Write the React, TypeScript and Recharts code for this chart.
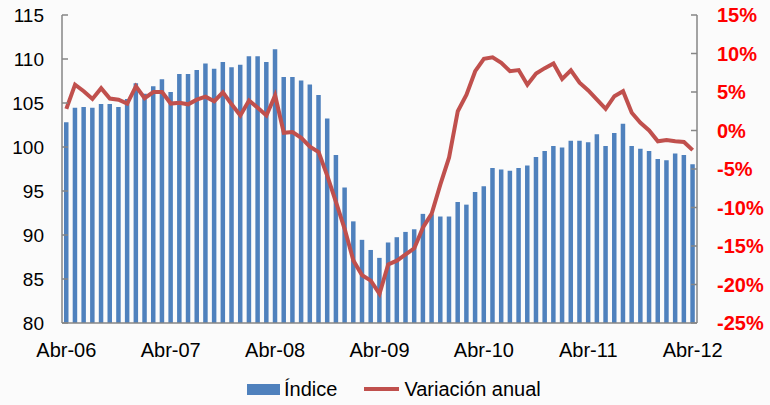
import React from 'react';
import { ComposedChart, Bar, Line, XAxis, YAxis, Legend } from 'recharts';

const MONTHS = ['Abr', 'May', 'Jun', 'Jul', 'Ago', 'Sep', 'Oct', 'Nov', 'Dic', 'Ene', 'Feb', 'Mar'];

// índice (eje izquierdo), abr-06 .. abr-12
const indice = [
  102.8, 104.45, 104.55, 104.45, 104.9, 104.9, 104.55, 105.45, 107.25, 106.05, 106.9, 107.7,
  106.25, 108.3, 108.3, 108.75, 109.5, 108.9, 109.65, 109.05, 109.35, 110.3, 110.3, 109.65,
  111.1, 107.95, 107.95, 107.55, 107.1, 105.9, 103.25, 99.1, 95.4, 91.55, 89.45, 88.3,
  87.4, 89.15, 89.75, 90.35, 90.65, 92.4, 92.35, 92.1, 92.1, 93.75, 93.45, 94.9,
  95.55, 97.6, 97.45, 97.3, 97.6, 97.9, 98.85, 99.55, 100.1, 99.95, 100.7, 100.7,
  100.55, 101.45, 100.1, 101.6, 102.65, 100.1, 99.8, 99.55, 98.65, 98.5, 99.25, 99.1,
  98.05,
];

// variación anual en % (eje derecho)
const variacion = [
  2.8, 5.95, 5.1, 4.1, 5.5, 4.15, 4.0, 3.5, 5.75, 4.2, 5.0, 5.0,
  3.5, 3.6, 3.4, 4.0, 4.4, 3.8, 4.95, 3.4, 1.95, 3.9, 2.95, 1.95,
  4.55, -0.3, -0.2, -0.95, -2.1, -2.8, -5.9, -9.3, -12.8, -16.9, -18.8, -19.5,
  -21.2, -17.4, -16.9, -16.1, -15.3, -12.6, -10.8, -7.0, -3.5, 2.5, 4.65, 7.7,
  9.3, 9.5, 8.8, 7.7, 7.85, 5.95, 7.4, 8.1, 8.7, 6.7, 7.8, 6.2,
  5.2, 4.0, 2.8, 4.45, 5.1, 2.3, 1.0, 0.0, -1.4, -1.25, -1.4, -1.5,
  -2.55,
];

const leftTicks = [80, 85, 90, 95, 100, 105, 110, 115];
const rightTicks = [-25, -20, -15, -10, -5, 0, 5, 10, 15];

const data = indice.map((v, i) => ({
  mes: `${MONTHS[i % 12]}-${String(6 + Math.floor((i + 3) / 12)).padStart(2, '0')}`,
  indice: v,
  variacion: variacion[i],
}));

const FONT = '"Liberation Sans", Arial, sans-serif';
const BLUE = '#4F81BD';
const RED = '#C0504D';
const AXIS = '#868686';

const LegendBox = () => (
  <div
    style={{
      display: 'flex',
      alignItems: 'center',
      height: 24,
      paddingLeft: 247,
      fontFamily: FONT,
      fontSize: 20,
      color: '#000',
    }}
  >
    <span style={{ display: 'inline-block', width: 33, height: 11, background: BLUE }} />
    <span style={{ marginLeft: 4 }}>Índice</span>
    <span style={{ display: 'inline-block', width: 35, height: 4, background: RED, marginLeft: 27 }} />
    <span style={{ marginLeft: 5 }}>Variación anual</span>
  </div>
);

export default function App() {
  return (
    <div style={{ position: 'absolute', left: 0, top: 0, width: 770, height: 405, background: '#fbfbfb' }}>
      <ComposedChart
        width={770}
        height={405}
        data={data}
        margin={{ top: 15, right: 0, bottom: 4, left: 0 }}
      >
        <XAxis
          dataKey="mes"
          interval={11}
          tickLine={false}
          tickSize={0}
          tickMargin={20}
          height={54}
          axisLine={{ stroke: AXIS, strokeWidth: 1.5 }}
          tick={{ fill: '#000', fontSize: 20, fontFamily: FONT }}
        />
        <YAxis
          yAxisId="left"
          domain={[80, 115]}
          ticks={leftTicks}
          width={62}
          tickSize={-6}
          tickMargin={24}
          axisLine={{ stroke: AXIS, strokeWidth: 1.5 }}
          tickLine={{ stroke: AXIS, strokeWidth: 1.5 }}
          tick={{ fill: '#000', fontSize: 19, fontFamily: FONT }}
        />
        <YAxis
          yAxisId="right"
          orientation="right"
          domain={[-25, 15]}
          ticks={rightTicks}
          width={73}
          tickSize={-6}
          tickMargin={26}
          tickFormatter={(v: number) => `${v}%`}
          axisLine={{ stroke: AXIS, strokeWidth: 1.5 }}
          tickLine={{ stroke: AXIS, strokeWidth: 1.5 }}
          tick={{ fill: '#FF0000', fontSize: 20, fontWeight: 'bold', fontFamily: FONT }}
        />
        <Legend verticalAlign="bottom" height={24} content={() => <LegendBox />} />
        <Bar
          yAxisId="left"
          dataKey="indice"
          name="Índice"
          fill={BLUE}
          barSize={4.5}
          isAnimationActive={false}
        />
        <Line
          yAxisId="right"
          type="linear"
          dataKey="variacion"
          name="Variación anual"
          stroke={RED}
          strokeWidth={4}
          dot={false}
          isAnimationActive={false}
        />
      </ComposedChart>
    </div>
  );
}
